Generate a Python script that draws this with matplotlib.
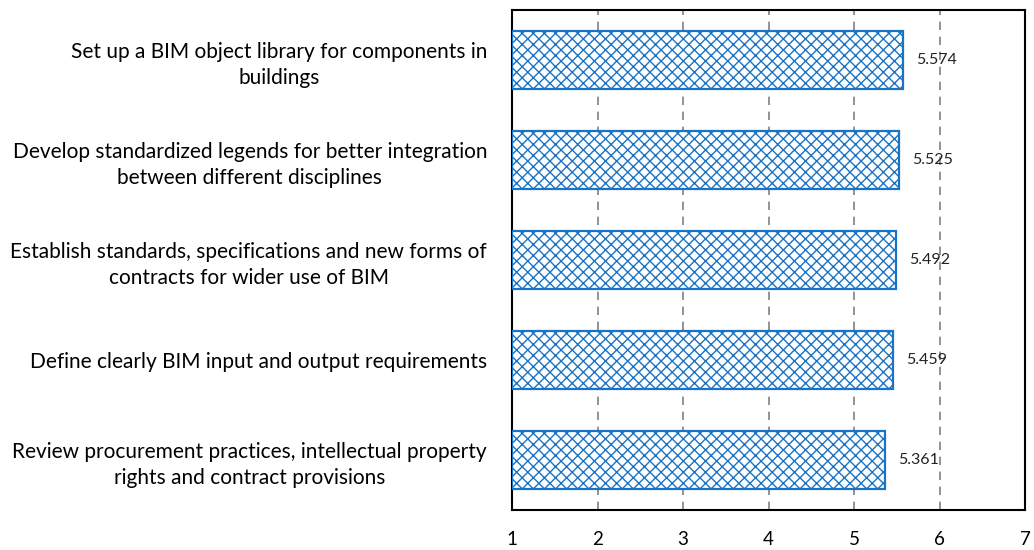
import matplotlib
matplotlib.use("Agg")
import matplotlib.pyplot as plt

categories = [
    "Set up a BIM object library for components in\nbuildings",
    "Develop standardized legends for better integration\nbetween different disciplines",
    "Establish standards, specifications and new forms of\ncontracts for wider use of BIM",
    "Define clearly BIM input and output requirements",
    "Review procurement practices, intellectual property\nrights and contract provisions",
]
scores = [5.574, 5.525, 5.492, 5.459, 5.361]
score_labels = ["5.574", "5.525", "5.492", "5.459", "5.361"]
x_ticks = [1, 2, 3, 4, 5, 6, 7]

plt.rcParams["font.family"] = ["Lato", "DejaVu Sans"]
plt.rcParams["hatch.linewidth"] = 1.0
plt.rcParams["hatch.color"] = "#4a9be0"

fig = plt.figure(figsize=(10.34, 5.5), dpi=100)
ax = fig.add_axes([0.4952, 0.0727, 0.4961, 0.9091])

ypos = list(range(len(categories)))
base = 1
ax.barh(ypos, [s - base for s in scores], left=base, height=0.58,
        facecolor="white", edgecolor="#1a73c4", linewidth=1.6, hatch="xxx",
        zorder=3)

for y, s, lab in zip(ypos, scores, score_labels):
    ax.text(s + 0.15, y, lab, va="center", ha="left", fontsize=11.5,
            color="#222222", zorder=4)

ax.set_xlim(1, 7)
ax.set_ylim(len(categories) - 0.5, -0.5)
ax.set_xticks(x_ticks)
ax.set_xticklabels([str(t) for t in x_ticks], fontsize=13.5)
ax.set_yticks(ypos)
ax.set_yticklabels(categories, fontsize=15, multialignment="center",
                   linespacing=1.35)
ax.tick_params(axis="both", length=0)
ax.tick_params(axis="y", pad=18)
ax.tick_params(axis="x", pad=15)

for t in x_ticks[1:-1]:
    ax.axvline(t, color="#808080", linestyle=(0, (5, 4)), linewidth=1.2,
               zorder=1)

for sp in ax.spines.values():
    sp.set_color("black")
    sp.set_linewidth(1.5)

fig.savefig("out.png", dpi=100)
